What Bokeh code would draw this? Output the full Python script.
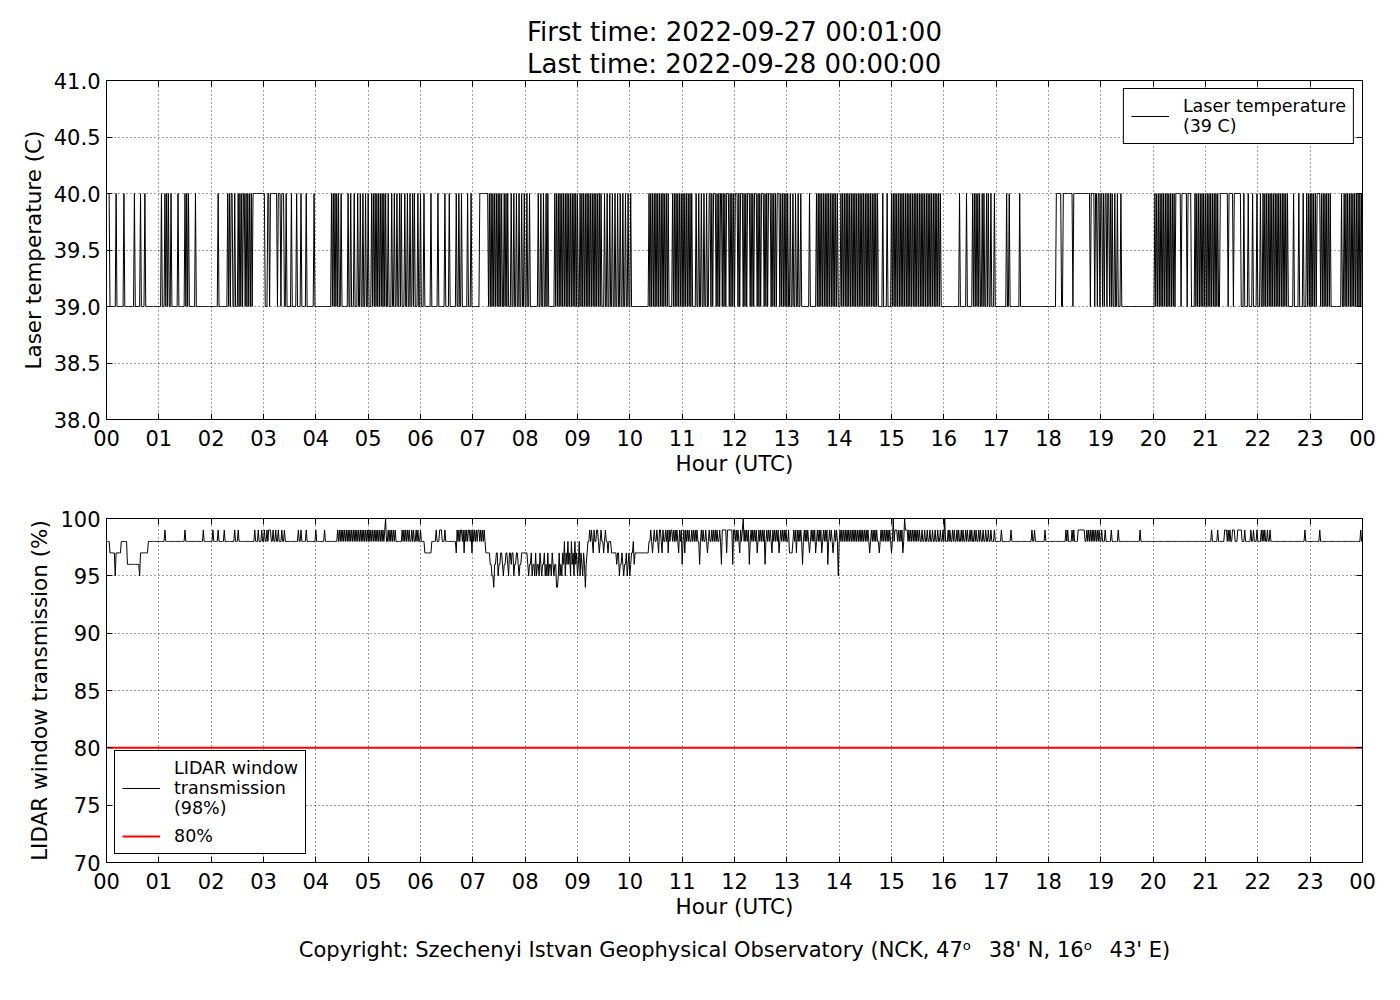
import numpy as np
from bokeh.plotting import figure
from bokeh.models import (FixedTicker, LinearAxis, Legend, LegendItem, Title,
                          Range1d, ColumnDataSource, NumeralTickFormatter,
                          CustomJSTickFormatter)
from bokeh.layouts import column
from bokeh.embed import file_html
from bokeh.resources import INLINE

FONT = "DejaVu Sans"

# ---------------- data ----------------
first_time = "2022-09-27 00:01:00"
last_time = "2022-09-28 00:00:00"
n_minutes = 1440  # one sample per minute, 00:01 .. 24:00

hour_ticks = list(range(25))
hour_labels = ["%02d" % (h % 24) for h in hour_ticks]
temp_ticks = [38.0, 38.5, 39.0, 39.5, 40.0, 40.5, 41.0]
trans_ticks = [70, 75, 80, 85, 90, 95, 100]

temp_base = 39.0
temp_high = 40.0
# minutes (index from 00:01) where laser temperature reads 40 C; tuples = inclusive runs
temp_40_h00_04 = [(0, 2), 10, 19, 31, 38, 43, 62, 66, 68, 70, 73, 81, 89, 91, 93, 101, 127,
                  138, 140, (142, 143), 146, 150, 152, 154, (156, 157), 159, 161, 163, 165,
                  (167, 180), (184, 185), (187, 194), (196, 198), (200, 202), 205, 211, 217,
                  222, 228, 237]
temp_40_h04_08 = [257, 259, 261, 263, 265, 268, 276, 279, 283, 287, 290, 293, 296, 299, 303,
                  305, 307, 309, 311, 313, 315, 317, 319, 322, 326, 329, 332, 335, 337, 341,
                  344, 347, 350, 352, 356, 359, 363, 371, 379, 387, 392, 400, 403, 406, 413,
                  417, (427, 436), 438, 440, 442, 444, 446, 448, 450, 452, 455, 457, 459, 463,
                  466, 469, 472, 475, 478]
temp_40_h08_12 = [481, 484, 494, 497, 500, 503, 505, 513, 515, 517, 519, 521, 523, 525, 527,
                  529, 531, 533, 535, 537, 539, 542, 544, 546, 548, 550, 552, 554, 556, 558,
                  560, 562, 564, 566, 570, 573, 576, 579, 582, 585, 588, 591, 594, 597, 600,
                  621, 623, 625, 627, 629, 631, 633, 635, 637, 639, 641, 643, 648, 650, 652,
                  654, 656, 658, 660, 662, 664, 666, 668, 670, 675, 678, 681, 684, 687,
                  (690, 691), 693, (695, 697), 699, 701, (703, 704), 706, 708, (710, 712),
                  714, 716, 718]
temp_40_h12_16 = [(720, 722), 724, (726, 728), 730, 732, (734, 736), 738, 740, (742, 744), 746,
                  748, (750, 752), 754, 756, (758, 760), 762, 764, 766, (768, 770), 772, 774,
                  776, 778, 780, 783, 786, 789, 792, 795, 805, 813, 815, 817, 819, 821, 823,
                  825, 827, 829, 831, 833, 835, 837, 841, 843, 845, 847, 849, 851, 853, 855,
                  857, 859, 861, 863, 865, 867, 869, 871, 873, 875, 877, 879, 881, 883, 889,
                  894, 899, 901, 903, 905, 907, 909, 911, 913, 915, 917, 919, 921, 923, 925,
                  927, 929, 931, 933, 935, 937, 939, 941, 943, 945, 947, 949, 951, 953, 955]
temp_40_h16_20 = [977, 985, 992, 994, 996, 998, 1000, 1003, 1005, 1008, 1010, 1013, 1017,
                  1031, 1034, 1046, (1088, 1093), (1096, 1106), (1108, 1126), (1128, 1131),
                  (1133, 1134), (1136, 1137), (1139, 1140), 1142, (1144, 1145), (1147, 1148),
                  1150, 1152, 1155, 1158, 1162]
temp_40_h20_24 = [1201, 1203, 1205, 1207, 1209, 1211, 1213, 1215, 1217, 1219, 1221, 1223,
                  (1225, 1230), (1232, 1237), (1239, 1242), 1247, 1249, 1251, 1253, 1255,
                  1257, 1259, 1261, 1263, 1265, 1267, 1269, 1271, 1273, (1276, 1284),
                  (1286, 1290), (1292, 1299), 1303, 1308, 1313, 1318, 1322, 1325, 1327, 1329,
                  1331, 1333, 1335, 1337, 1339, 1341, 1343, 1345, 1347, 1349, 1351, 1353,
                  1360, 1366, 1371, 1375, 1377, 1379, 1381, 1383, 1385, (1387, 1390), 1392,
                  1394, 1396, 1398, 1400, 1402, 1415, 1418, 1420, 1422, 1424, 1426, 1428,
                  1430, 1432, 1434, 1436, 1438]

trans_base = 98.0
trans_threshold = 80.0
# minutes where the window transmission reads 99 %
trans_99_h00_06 = [66, 89, 110, 121, 127, 134, 146, 150, 169, 173, 177, 180, 183, (185, 187),
                   190, 193, 196, 200, 203, 219, 222, 228, 239, 249, 264, 266, 268, 270, 272,
                   274, 276, 278, 280, 282, 284, 286, 288, 290, 292, 294, 296, 298, 300, 302,
                   304, 306, 308, 310, 312, 314, 316, 318, 322, 324, 326, 328, 330, 338, 340,
                   342, 344, 346, 349, 351, 354, 356, 359]
trans_99_h06_12 = [377, (381, 383), 387, 401, 403, (405, 406), 408, 410, 412, (414, 415), 417,
                   419, 421, 423, (425, 426), 428, 430, 432, 553, 555, 558, (561, 562), 566,
                   571, 623, 627, 630, (633, 634), 637, 640, 642, 644, (646, 647), 649, 651,
                   653, 656, 658, 661, 663, 665, 667, 670, 672, 674, 676, 681, 683, 686, 690,
                   693, 695, 697, 699, 702, 706, 708, 711, 713, 715, 718]
trans_99_h12_18 = [705, 707, 709, 712, 714, 716, 719, 721, 723, 726, 728, 731, 733, 735, 738,
                   740, 742, 744, 747, 749, 751, 753, 756, 758, 760, 763, 765, 767, 769, 772,
                   774, 776, 778, 781, 787, 789, 791, 793, 795, 799, 801, 803, 807, 809, 811,
                   814, 816, 818, 821, 823, 825, 828, 830, 834, 836, 840, 842, 844, 846, 848,
                   850, 852, 854, 856, 858, 860, 862, 864, 866, 868, 870, 872, 876, 878, 880,
                   882, 887, 889, 891, 893, 895, 897, (903, 905), 907, 909, 911, (915, 917),
                   919, 921, 923, 925, 927, 929, 931, 934, 937, 940, 943, 946, 949, 952, 955,
                   958, 964, 966, 969, 971, 974, 976, 979, 981, 984, 986, 989, 991, 994, 996,
                   999, 1001, 1004, 1007, 1010, 1013, 1017, 1025, 1036, 1060, 1063, 1075]
trans_99_h18_24 = [1099, 1101, 1106, 1108, (1113, 1120), 1123, 1125, 1127, 1129, 1131, 1133,
                   1135, 1137, 1140, 1144, 1151, 1159, 1184, 1266, 1273, (1281, 1283), 1285,
                   1287, (1290, 1292), (1296, 1300), 1304, 1311, 1314, 1318, 1323, 1325, 1327,
                   1330, 1333, 1373, 1390, 1437]
trans_100 = [319, 729, 901, 914, 960]
# (start minute, end minute, value) runs of other readings
trans_runs_h00_06 = [(3, 8, 97), (9, 9, 95), (10, 15, 97), (23, 36, 96), (37, 37, 95),
                     (38, 46, 97)]
trans_runs_h06_12 = [(364, 371, 97), (400, 400, 97), (409, 409, 97), (418, 418, 97),
                     (434, 438, 97), (439, 440, 96), (441, 442, 95), (443, 443, 94),
                     (444, 445, 96), (446, 447, 97), (448, 448, 95), (449, 450, 96),
                     (451, 452, 97), (453, 453, 96), (454, 454, 95), (455, 456, 96),
                     (457, 458, 97), (459, 459, 96), (460, 460, 95), (461, 462, 97),
                     (463, 463, 96), (464, 465, 97), (466, 466, 95), (467, 468, 96),
                     (469, 470, 97), (471, 471, 96), (472, 472, 95), (473, 474, 96),
                     (475, 481, 97), (482, 482, 96), (483, 483, 95), (484, 485, 96),
                     (486, 486, 97), (487, 487, 95), (488, 489, 96), (490, 490, 95),
                     (491, 491, 97), (492, 492, 95), (493, 494, 96), (495, 495, 95),
                     (496, 496, 97), (497, 497, 96), (498, 498, 95), (499, 500, 96),
                     (501, 501, 97), (502, 502, 95), (503, 503, 96), (504, 504, 95),
                     (505, 505, 97), (506, 506, 95), (507, 508, 96), (509, 509, 95),
                     (510, 510, 97), (511, 511, 96), (512, 512, 95), (513, 514, 96),
                     (515, 516, 94), (517, 517, 95), (518, 518, 97), (519, 519, 95),
                     (520, 520, 96), (521, 521, 95), (522, 522, 97), (523, 523, 96),
                     (524, 524, 98), (525, 525, 95), (526, 526, 97), (527, 527, 96),
                     (528, 528, 98), (529, 529, 96), (530, 530, 97), (531, 531, 95),
                     (532, 532, 98), (533, 533, 96), (534, 534, 97), (535, 535, 95),
                     (536, 536, 98), (537, 537, 96), (538, 538, 97), (539, 539, 95),
                     (540, 540, 96), (541, 541, 98), (542, 542, 95), (543, 543, 97),
                     (544, 544, 96), (545, 545, 95), (546, 546, 97), (547, 547, 96),
                     (548, 548, 94), (549, 549, 96), (550, 550, 97), (557, 557, 97),
                     (564, 564, 97), (569, 569, 97), (574, 574, 97), (578, 583, 97),
                     (584, 584, 96), (585, 586, 97), (587, 587, 95), (588, 589, 96),
                     (590, 590, 97), (591, 591, 96), (592, 592, 95), (593, 594, 96),
                     (595, 595, 97), (596, 596, 95), (597, 597, 96), (598, 598, 97),
                     (599, 599, 95), (600, 600, 96), (601, 602, 97), (604, 604, 96),
                     (605, 620, 97), (625, 625, 97), (632, 632, 97), (636, 636, 97),
                     (643, 643, 97), (655, 655, 97), (659, 659, 96), (662, 662, 97),
                     (679, 679, 96), (688, 688, 97), (704, 704, 96), (710, 710, 97)]
trans_runs_h12_18 = [(717, 717, 96), (725, 725, 97), (736, 736, 96), (745, 745, 97),
                     (754, 754, 96), (762, 762, 97), (770, 770, 97), (782, 785, 97),
                     (790, 790, 97), (797, 797, 96), (805, 805, 97), (812, 812, 97),
                     (819, 819, 97), (826, 826, 96), (832, 832, 97), (838, 838, 95),
                     (874, 874, 97), (885, 885, 97), (899, 899, 97), (912, 912, 97)]

temp_label = "Laser temperature\n(39 C)"
trans_label = "LIDAR window\ntransmission\n(98%)"
thr_label = "80%"
title_text = "First time: " + first_time + "\nLast time: " + last_time
copyright_text = ("Copyright: Szechenyi Istvan Geophysical Observatory "
                  "(NCK, 47\u1d52\u2002 38' N, 16\u1d52\u2002 43' E)")


def mark(arr, items, val):
    for it in items:
        if isinstance(it, tuple):
            arr[it[0]:it[1] + 1] = val
        else:
            arr[it] = val


hours = (np.arange(n_minutes) + 1) / 60.0
temp = np.full(n_minutes, temp_base)
for lst in (temp_40_h00_04, temp_40_h04_08, temp_40_h08_12, temp_40_h12_16,
            temp_40_h16_20, temp_40_h20_24):
    mark(temp, lst, temp_high)

trans = np.full(n_minutes, trans_base)
for lst in (trans_99_h00_06, trans_99_h06_12, trans_99_h12_18, trans_99_h18_24):
    mark(trans, lst, 99.0)
for lst in (trans_runs_h00_06, trans_runs_h06_12, trans_runs_h12_18):
    for s, e, v in lst:
        trans[s:e + 1] = v
mark(trans, trans_100, 100.0)
thr = np.full(n_minutes, trans_threshold)

src = ColumnDataSource(dict(h=hours, temp=temp, trans=trans, thr=thr))

# ---------------- styling helpers ----------------
blank = CustomJSTickFormatter(code="return ''")
TICK_FS = "21px"
AXLAB_FS = "21.5px"


def style(p, yticks, yfmt=None):
    p.outline_line_color = "black"
    p.outline_line_alpha = 1
    p.background_fill_color = "white"
    p.border_fill_color = "white"
    xt = FixedTicker(ticks=hour_ticks)
    yt = FixedTicker(ticks=yticks)
    p.xaxis.ticker = xt
    p.yaxis.ticker = yt
    p.xaxis.major_label_overrides = {h: lab for h, lab in zip(hour_ticks, hour_labels)}
    if yfmt:
        p.yaxis.formatter = NumeralTickFormatter(format=yfmt)
    for ax in (p.xaxis[0], p.yaxis[0]):
        ax.axis_line_color = "black"
        ax.major_tick_line_color = "black"
        ax.major_tick_in = 6
        ax.major_tick_out = 0
        ax.minor_tick_line_color = None
        ax.major_label_text_font = FONT
        ax.major_label_text_font_size = TICK_FS
        ax.major_label_text_color = "black"
        ax.axis_label_text_font = FONT
        ax.axis_label_text_font_size = AXLAB_FS
        ax.axis_label_text_font_style = "normal"
        ax.axis_label_text_color = "black"
    p.xaxis.major_label_standoff = 10
    p.xaxis.axis_label_standoff = 2
    p.yaxis.major_label_standoff = 6
    p.yaxis.axis_label_standoff = 5
    p.xaxis.axis_label = "Hour (UTC)"
    # mirrored tick marks on top and right
    top = LinearAxis(ticker=FixedTicker(ticks=hour_ticks), formatter=blank,
                     major_tick_in=6, major_tick_out=0, minor_tick_line_color=None,
                     major_label_standoff=0, major_label_text_font_size="1px")
    right = LinearAxis(ticker=FixedTicker(ticks=yticks), formatter=blank,
                       major_tick_in=6, major_tick_out=0, minor_tick_line_color=None,
                       major_label_standoff=0, major_label_text_font_size="1px")
    p.add_layout(top, "above")
    p.add_layout(right, "right")
    for g, t in ((p.xgrid[0], xt), (p.ygrid[0], yt)):
        g.ticker = t
        g.grid_line_color = "black"
        g.grid_line_alpha = 0.75
        g.grid_line_width = 1
        g.grid_line_dash = "1 3"


def style_legend(leg):
    leg.border_line_color = "black"
    leg.border_line_width = 1
    leg.border_line_alpha = 1
    leg.background_fill_color = "white"
    leg.background_fill_alpha = 1
    leg.label_text_font = FONT
    leg.label_text_font_size = "17.5px"
    leg.label_text_color = "black"
    leg.label_text_line_height = 1.1
    leg.glyph_width = 38
    leg.glyph_height = 20
    leg.label_standoff = 14
    leg.padding = 7
    leg.margin = 8
    leg.spacing = 8


# ---------------- top panel ----------------
p1 = figure(width=1392, height=478, x_range=Range1d(0, 24), y_range=Range1d(38, 41),
            output_backend="svg", toolbar_location=None,
            min_border_left=106, min_border_right=30, min_border_top=80, min_border_bottom=55)
style(p1, temp_ticks, "0.0")
p1.yaxis[0].axis_label = "Laser temperature (C)"
r1 = p1.line("h", "temp", source=src, line_color="black", line_width=1)
leg1 = Legend(items=[LegendItem(label=temp_label, renderers=[r1])], location="top_right")
style_legend(leg1)
p1.add_layout(leg1)
p1.add_layout(Title(text=title_text, align="center", text_font=FONT,
                    text_color="black", text_font_size="26px", text_font_style="normal",
                    text_line_height=1.08, standoff=3), "above")

# ---------------- bottom panel ----------------
p2 = figure(width=1392, height=505, x_range=Range1d(0, 24), y_range=Range1d(70, 100),
            output_backend="svg", toolbar_location=None,
            min_border_left=106, min_border_right=30, min_border_top=40, min_border_bottom=121)
style(p2, trans_ticks)
p2.yaxis[0].axis_label = "LIDAR window transmission (%)"
r2 = p2.line("h", "trans", source=src, line_color="black", line_width=1)
r3 = p2.line("h", "thr", source=src, line_color="red", line_width=2)
leg2 = Legend(items=[LegendItem(label=trans_label, renderers=[r2]),
                     LegendItem(label=thr_label, renderers=[r3])], location="bottom_left")
style_legend(leg2)
p2.add_layout(leg2)
p2.add_layout(Title(text=copyright_text, align="center", text_font=FONT, text_color="black",
                    text_font_size="21px", text_font_style="normal", standoff=28), "below")

layout = column(p1, p2)
open("out.html", "w").write(file_html(layout, INLINE))
